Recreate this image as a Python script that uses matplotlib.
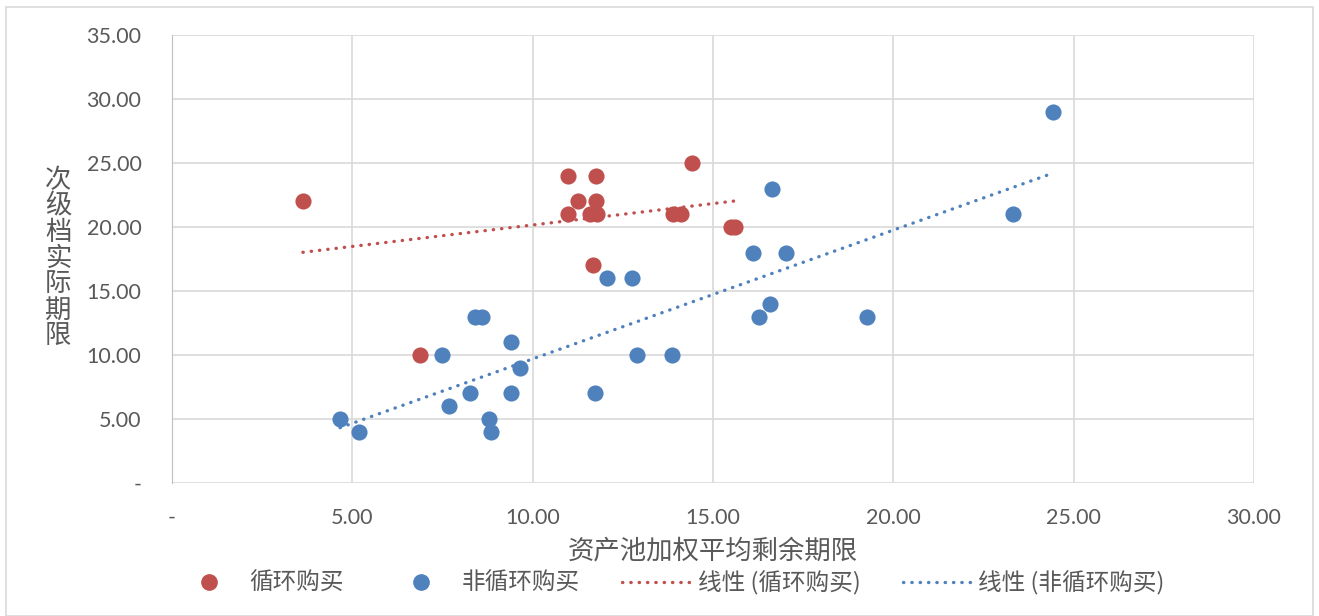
import numpy as np
import matplotlib.pyplot as plt
from matplotlib.lines import Line2D
from matplotlib.ticker import FuncFormatter

plt.rcParams['font.family'] = ['Lato', 'Noto Sans CJK SC', 'DejaVu Sans']

# 循环购买
revolving_x = [3.63, 6.88, 10.98, 10.98, 11.26, 11.67, 11.76, 11.76, 11.6, 11.78,
               13.89, 14.12, 14.42, 15.5, 15.6]
revolving_y = [22, 10, 24, 21, 22, 17, 24, 22, 21, 21,
               21, 21, 25, 20, 20]

# 非循环购买
static_x = [4.66, 5.18, 7.49, 7.68, 8.26, 8.4, 8.6, 8.79, 8.84, 9.4,
            9.4, 9.65, 11.73, 12.06, 12.75, 12.89, 13.86, 16.11, 16.27, 16.58,
            16.63, 17.02, 19.27, 23.32, 24.42]
static_y = [5, 4, 10, 6, 7, 13, 13, 5, 4, 11,
            7, 9, 7, 16, 16, 10, 10, 18, 13, 14,
            23, 18, 13, 21, 29]

red = '#C0504D'
blue = '#4F81BD'
text_col = '#595959'
dots = (0, (0.1, 2.4))

fig = plt.figure(figsize=(13.19, 6.16), dpi=100)
ax = fig.add_axes([172 / 1319, 1 - 483 / 616, (1254 - 172) / 1319, (483 - 35) / 616])

ax.scatter(revolving_x, revolving_y, s=135, color=red, zorder=3, linewidths=0)
ax.scatter(static_x, static_y, s=135, color=blue, zorder=3, linewidths=0)

# 线性趋势线
for xs, ys, c in [(revolving_x, revolving_y, red), (static_x, static_y, blue)]:
    k, b = np.polyfit(xs, ys, 1)
    tx = np.array([min(xs), max(xs)])
    ax.plot(tx, k * tx + b, color=c, lw=2.4, linestyle=dots,
            dash_capstyle='round', zorder=2)

ax.set_xlim(0, 30)
ax.set_ylim(0, 35)
ax.set_xticks(np.arange(0, 31, 5))
ax.set_yticks(np.arange(0, 36, 5))
fmt = FuncFormatter(lambda v, p: '-' if v == 0 else f'{v:.2f}')
ax.xaxis.set_major_formatter(fmt)
ax.yaxis.set_major_formatter(fmt)
ax.grid(True, color='#D9D9D9', lw=1.2)
ax.set_axisbelow(True)
for s in ['top', 'right', 'bottom']:
    ax.spines[s].set_visible(False)
ax.spines['left'].set_color('#BFBFBF')
ax.tick_params(length=0, labelsize=15.5, colors=text_col)
ax.tick_params(axis='y', pad=22)
ax.tick_params(axis='x', pad=18)

fig.text(713 / 1319, 1 - 551 / 616, '资产池加权平均剩余期限', ha='center', va='center',
         fontsize=19, color=text_col, family=['Noto Sans CJK SC'])
fig.text(58 / 1319, 1 - 258 / 616, '\n'.join('次级档实际期限'), ha='center', va='center',
         fontsize=19, color=text_col, family=['Noto Sans CJK SC'], linespacing=0.95)

handles = [
    Line2D([], [], marker='o', ls='none', color=red, markersize=11),
    Line2D([], [], marker='o', ls='none', color=blue, markersize=11),
    Line2D([], [], color=red, lw=2.4, ls=dots, dash_capstyle='round'),
    Line2D([], [], color=blue, lw=2.4, ls=dots, dash_capstyle='round'),
]
labels = ['循环购买', '非循环购买', '线性 (循环购买)', '线性 (非循环购买)']
fig.legend(handles, labels, loc='center', bbox_to_anchor=(669 / 1319, 1 - 583 / 616),
           ncol=4, frameon=False, labelcolor=text_col,
           handlelength=3.0, columnspacing=1.8, handletextpad=0.2,
           prop={'family': ['Noto Sans CJK SC'], 'size': 17})

# 外框
fig.patches.append(plt.Rectangle((6 / 1319, 0), 1 - 12 / 1319, 1 - 7 / 616, transform=fig.transFigure,
                                 fill=False, edgecolor='#D9D9D9', lw=1.2))

fig.savefig('out.png', dpi=100)
